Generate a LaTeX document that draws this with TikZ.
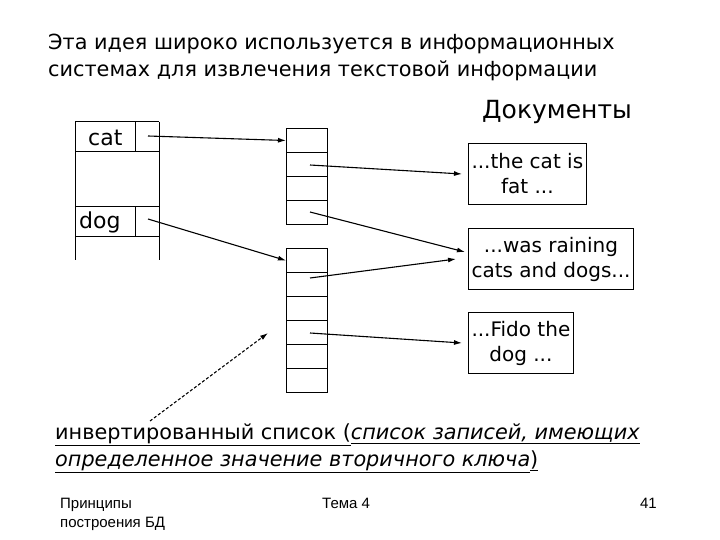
\documentclass[tikz,border=0pt]{standalone}
\usepackage{fontspec}
\setmainfont{DejaVu Sans}
\newfontfamily\footfont{Liberation Sans}
\usetikzlibrary{arrows.meta}
\begin{document}
\begin{tikzpicture}[x=1pt,y=-1pt,
  cell/.style={draw,line width=1pt,minimum width=41pt,minimum height=24pt,inner sep=0pt,anchor=north west},
  doc/.style={draw,line width=1pt,minimum height=61pt,inner xsep=3pt,inner ysep=1pt,align=center,anchor=north west,font=\fontsize{20}{25}\selectfont},
  arr/.style={line width=1.1pt,-{Latex[length=8pt,width=5pt]}},
  lbl/.style={anchor=west,inner sep=0pt,font=\fontsize{22}{24}\selectfont}]
\useasboundingbox (0,0) rectangle (720,540);
% title
\node[anchor=north west,align=left,inner sep=0pt,font=\fontsize{20.8}{27}\selectfont] (title) at (48,34) {Эта идея широко используется в информационных\\системах для извлечения текстовой информации};
\node[anchor=west,inner sep=0pt,font=\fontsize{25}{28}\selectfont] (docs) at (482,112) {Документы};
% left table
\draw[line width=1pt] (75,122) -- (75,260) (159,122) -- (159,260);
\draw[line width=1pt] (75,122) -- (159,122) (75,152) -- (159,152) (135,122) -- (135,152);
\draw[line width=1pt] (75,207) -- (159,207) (75,236) -- (159,236) (135,207) -- (135,236);
\node[lbl] (cat) at (88,138) {cat};
\node[lbl] (dog) at (79,222) {dog};
\coordinate (cp) at (148,136);
\coordinate (dp) at (148,219);
% lists
\foreach \i in {0,...,3} \node[cell] (a\i) at (286,128+24*\i) {};
\foreach \i in {0,...,5} \node[cell] (b\i) at (286,248+24*\i) {};
\coordinate (a1p) at (310,165);
\coordinate (a3p) at (310,212);
\coordinate (b1p) at (310,278);
\coordinate (b3p) at (310,333);
% documents
\node[doc] (d1) at (468,143) {...the cat is\\fat ...};
\node[doc] (d2) at (468,228) {...was raining\\cats and dogs...};
\node[doc] (d3) at (468,312) {...Fido the\\dog ...};
% arrows
\draw[arr] (cp) -- (a0.west);
\draw[arr] (dp) -- (b0.west);
\draw[arr] (a1p) -- ([xshift=-6pt]d1.west);
\draw[arr] (a3p) -- ([xshift=-3pt,yshift=7pt]d2.west);
\draw[arr] (b1p) -- ([xshift=-12pt,yshift=0pt]d2.west);
\draw[arr] (b3p) -- ([xshift=-6pt]d3.west);
\coordinate (ds) at (150,421);
\coordinate (de) at (268,333);
\draw[arr,dashed,dash pattern=on 3pt off 2pt] (ds) -- (de);
% caption
\node[anchor=north west,align=left,inner sep=0pt,font=\fontsize{20.8}{27}\selectfont] (cap) at (55,423) {\underline{инвертированный список (}\underline{\itshape список записей, имеющих}\\\underline{\itshape определенное значение вторичного ключа}\underline{)}};
% footer
\node[anchor=north west,align=left,inner sep=0pt,font=\footfont\fontsize{15}{19}\selectfont] (f1) at (60,498) {Принципы\\построения БД};
\node[anchor=north west,inner sep=0pt,font=\footfont\fontsize{15}{19}\selectfont] (f2) at (322,498) {Тема 4};
\node[anchor=north east,inner sep=0pt,font=\footfont\fontsize{15}{19}\selectfont] (f3) at (657,498) {41};
\end{tikzpicture}
\end{document}
